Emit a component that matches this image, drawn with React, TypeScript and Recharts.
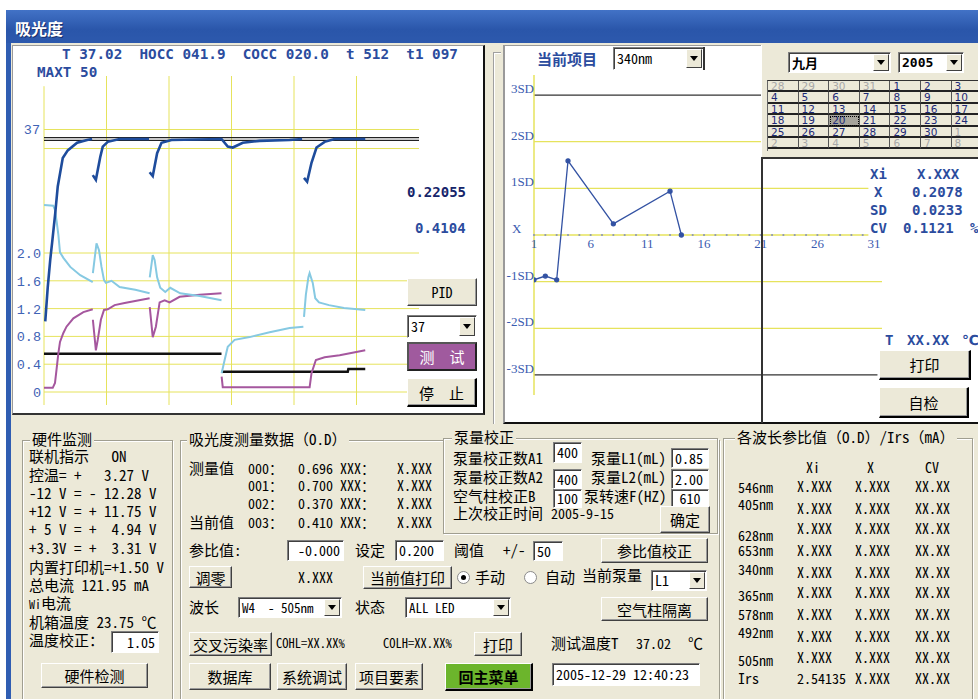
import React from 'react';
import { LineChart, Line, XAxis, YAxis, ReferenceLine, ReferenceDot } from 'recharts';

// ---------------- Left chart data (t in s, absorbance in O.D, temperature in °C) ----------------
const absTicks = [0, 0.4, 0.8, 1.2, 1.6, 2.0];
const timeGrid = [0, 10, 20, 30, 40, 50];
const tempBandYellow = [38, 36];
const tempBandBlack = [37.15, 36.85];

const tempT = [0.2, 0.6, 1.0, 1.3, 1.8, 2.2, 2.6, 3.0, 3.8, 5.3, 6.9, 7.7, 7.75, 7.8, 8.3, 9.0, 9.4, 10.2, 12.1, 16.8, 16.85, 16.9, 17.4, 18.1, 18.8, 20.4, 28.4, 29.4, 30.2, 31.8, 34.5, 39.3, 41.3, 41.4, 41.6, 42.1, 42.8, 43.6, 44.9, 46.5, 51.4];
const tempC = [17.8, 21.4, 24.3, 26.1, 29.2, 32.0, 33.5, 35.0, 35.8, 36.6, 36.9, 37.0, null, 33.2, 32.7, 35.1, 36.2, 36.7, 37.0, 37.0, null, 33.5, 33.1, 35.5, 36.6, 36.9, 37.0, 36.2, 36.1, 36.6, 36.8, 36.9, 37.0, null, 32.9, 32.5, 34.5, 36.1, 36.7, 37.0, 37.0];

const cyanT = [0, 1.49, 1.76, 2.0, 2.3, 2.56, 3.1, 4.2, 5.8, 7.8, 7.81, 7.82, 8.4, 8.8, 9.2, 9.6, 9.9, 10.8, 12.1, 14.6, 16.9, 16.91, 16.92, 17.4, 17.7, 18.1, 18.6, 19.4, 20.2, 21.8, 24.9, 28.4, 28.41, 28.42, 28.9, 29.4, 30.5, 32.9, 36.1, 39.3, 41.5, 41.51, 41.6, 41.9, 42.3, 42.5, 43.0, 43.4, 44.0, 45.6, 48.0, 51.4];
const cyanA = [2.69, 2.68, 2.62, 2.47, 2.26, 2.01, 1.93, 1.80, 1.68, 1.58, null, 1.71, 2.14, 2.04, 1.80, 1.61, 1.57, 1.60, 1.51, 1.47, 1.42, null, 1.65, 1.97, 1.90, 1.65, 1.50, 1.44, 1.50, 1.42, 1.38, 1.32, null, 0.27, 0.46, 0.65, 0.75, 0.79, 0.86, 0.92, 0.94, null, 1.08, 1.40, 1.65, 1.71, 1.57, 1.35, 1.29, 1.25, 1.21, 1.18];

const purpleT = [0, 1.4, 1.76, 2.0, 2.3, 2.56, 3.1, 3.6, 4.7, 6.3, 7.8, 7.81, 7.82, 8.3, 8.6, 9.1, 9.6, 10.2, 11.3, 12.9, 16.9, 16.91, 16.92, 17.4, 17.9, 18.5, 19.3, 20.1, 21.7, 24.9, 28.4, 28.41, 28.42, 28.6, 42.5, 42.8, 43.5, 44.9, 47.3, 51.4];
const purpleA = [0.06, 0.06, 0.13, 0.32, 0.56, 0.72, 0.85, 0.94, 1.06, 1.15, 1.19, null, 1.04, 0.60, 0.75, 1.04, 1.18, 1.19, 1.25, 1.28, 1.35, null, 1.22, 0.79, 0.94, 1.29, 1.32, 1.29, 1.37, 1.40, 1.42, null, 0.22, 0.07, 0.07, 0.27, 0.46, 0.50, 0.53, 0.60];

const blackT = [0, 28.4, 28.41, 28.42, 48.6, 48.7, 51.4];
const blackA = [0.55, 0.55, null, 0.29, 0.29, 0.33, 0.33];

// ---------------- Right chart data (QC, SD units per day) ----------------
const qcDay = [1, 2, 3, 4, 8, 13, 14];
const qcSD = [-0.96, -0.88, -0.96, 1.59, 0.24, 0.94, 0.0];
const sdLevels = [3, 2, 1, 0, -1, -2, -3];
const dayLabels = [1, 6, 11, 16, 21, 26, 31];
const dayTicks = Array.from({ length: 30 }, (_, i) => i + 1);

// ---------------- Calendar / tables ----------------
const calRows = [
  [28, 29, 30, 31, 1, 2, 3],
  [4, 5, 6, 7, 8, 9, 10],
  [11, 12, 13, 14, 15, 16, 17],
  [18, 19, 20, 21, 22, 23, 24],
  [25, 26, 27, 28, 29, 30, 1],
  [2, 3, 4, 5, 6, 7, 8],
];
const waveRows = [
  ['546nm', 487, 486, 'X.XXX'],
  ['405nm', 504, 508, 'X.XXX'],
  ['628nm', 535, 528, 'X.XXX'],
  ['653nm', 550, 550, 'X.XXX'],
  ['340nm', 569, 572, 'X.XXX'],
  ['365nm', 595, 592, 'X.XXX'],
  ['578nm', 614, 614, 'X.XXX'],
  ['492nm', 632, 636, 'X.XXX'],
  ['505nm', 660, 657, 'X.XXX'],
  ['Irs', 678, 678, '2.54135'],
];
const measRows = [
  ['000：', '0.696', 468],
  ['001：', '0.700', 485],
  ['002：', '0.370', 503],
  ['003：', '0.410', 522],
];

const zip = (ts: number[], vs: (number | null)[]) => ts.map((t, i) => ({ t, v: vs[i] }));

const BEIGE = '#ECE9D8';
const YEL = '#E6E35C';
const BLUE_TXT = '#2B4C9E';
const UI = '"Noto Sans Mono CJK SC", "Liberation Mono", "Noto Sans CJK SC", monospace';
const MONO = '"DejaVu Sans Mono", monospace';

function Txt({ x, y, children, size = 15, color = '#000', font = UI, weight = 400, style = {} }: any) {
  const h = Math.ceil(size) + 1;
  return (
    <div style={{ position: 'absolute', left: x, top: y - h / 2, height: h, lineHeight: `${h}px`, fontSize: size, color, fontFamily: font, fontWeight: weight, whiteSpace: 'pre', ...style }}>
      {children}
    </div>
  );
}

function Btn({ x, y, w, h, children, bg = BEIGE, color = '#000', bold = false, thick = false, size = 15 }: any) {
  return (
    <div style={{
      position: 'absolute', left: x, top: y, width: w, height: h, boxSizing: 'border-box', background: bg,
      borderTop: '1px solid #fff', borderLeft: '1px solid #fff',
      borderRight: thick ? '2px solid #000' : '1px solid #404040', borderBottom: thick ? '2px solid #000' : '1px solid #404040',
      boxShadow: 'inset -1px -1px 0 #9a9a9a', display: 'flex', alignItems: 'center', justifyContent: 'center',
      fontFamily: UI, fontSize: size, color, fontWeight: bold ? 700 : 400, whiteSpace: 'pre',
    }}>{children}</div>
  );
}

function Field({ x, y, w, h, children, align = 'left', size = 14 }: any) {
  return (
    <div style={{
      position: 'absolute', left: x, top: y, width: w, height: h, boxSizing: 'border-box', background: '#fff',
      borderTop: '1px solid #7f7f7f', borderLeft: '1px solid #7f7f7f', borderRight: '1px solid #fff', borderBottom: '1px solid #fff',
      boxShadow: 'inset 1px 1px 0 #404040', fontFamily: UI, fontSize: size, lineHeight: `${h - 2}px`,
      paddingLeft: 3, paddingRight: 3, textAlign: align, whiteSpace: 'pre', overflow: 'hidden',
    }}>{children}</div>
  );
}

function Select({ x, y, w, h, children, size = 14, bold = false, font = UI }: any) {
  return (
    <div style={{
      position: 'absolute', left: x, top: y, width: w, height: h, boxSizing: 'border-box', background: '#fff',
      borderTop: '1px solid #7f7f7f', borderLeft: '1px solid #7f7f7f', borderRight: '1px solid #fff', borderBottom: '1px solid #fff',
      boxShadow: 'inset 1px 1px 0 #404040', fontFamily: font, fontSize: size, fontWeight: bold ? 700 : 400,
      lineHeight: `${h - 2}px`, paddingLeft: 3, whiteSpace: 'pre', overflow: 'hidden',
    }}>
      {children}
      <div style={{
        position: 'absolute', right: 1, top: 1, width: 16, height: h - 4, boxSizing: 'border-box', background: BEIGE,
        borderTop: '1px solid #fff', borderLeft: '1px solid #fff', borderRight: '1px solid #404040', borderBottom: '1px solid #404040',
        display: 'flex', alignItems: 'center', justifyContent: 'center',
      }}>
        <svg width={8} height={5}><polygon points="0,0 8,0 4,5" fill="#000" /></svg>
      </div>
    </div>
  );
}

function Radio({ x, y, on }: any) {
  return (
    <div style={{ position: 'absolute', left: x, top: y, width: 13, height: 13, borderRadius: '50%', background: '#fff', border: '1px solid #8a8a8a', boxSizing: 'border-box', display: 'flex', alignItems: 'center', justifyContent: 'center' }}>
      {on && <div style={{ width: 5, height: 5, borderRadius: '50%', background: '#000' }} />}
    </div>
  );
}

function Group({ x, y, w, h, title, tx }: any) {
  return (
    <>
      <div style={{ position: 'absolute', left: x, top: y, width: w, height: h, boxSizing: 'border-box', border: '1px solid #a09e90', boxShadow: '1px 1px 0 #fff, inset 1px 1px 0 #fff' }} />
      <Txt x={tx} y={y - 1} style={{ background: BEIGE, padding: '0 2px' }}>{title}</Txt>
    </>
  );
}

const AbsTick = (p: any) => (
  <text x={p.x} y={p.y} dy={5} textAnchor="end" fill="#3F63B5" fontSize={13.5} fontFamily="Liberation Mono">
    {p.payload.value === 0 ? '0' : Number(p.payload.value).toFixed(1)}
  </text>
);

const SdTick = (p: any) => {
  const v = p.payload.value;
  const label = v === 0 ? 'X' : `${v}SD`;
  return (
    <text x={v === 0 ? p.x - 22 : p.x} y={p.y - 7} dy={5} textAnchor={v === 0 ? 'start' : 'end'} fill="#3A5BB0" fontSize={13} fontFamily="Liberation Serif">
      {label}
    </text>
  );
};

function LeftChart() {
  return (
    <div style={{ position: 'absolute', left: 13, top: 46 }}>
      <LineChart width={470} height={367} margin={{ top: 30, right: 64, bottom: 8, left: 0 }}>
        <XAxis type="number" dataKey="t" domain={[0, 60]} hide allowDataOverflow />
        <YAxis yAxisId="a" type="number" domain={[-0.187, 4.547]} ticks={absTicks} width={31} axisLine={false} tickLine={false} tickSize={0} tickMargin={3} tick={AbsTick} allowDataOverflow />
        <YAxis yAxisId="temp" type="number" domain={[9.0, 43.63]} hide allowDataOverflow />
        {absTicks.map((v) => (
          <ReferenceLine key={'h' + v} yAxisId="a" y={v} stroke={YEL} strokeWidth={1} />
        ))}
        {timeGrid.map((t) => (
          <ReferenceLine key={'v' + t} yAxisId="a" segment={[{ x: t, y: -0.187 }, { x: t, y: t === 0 ? 4.40 : 4.547 }]} stroke={YEL} strokeWidth={1} />
        ))}
        {tempBandYellow.map((v, i) => (
          <ReferenceLine key={'ty' + v} yAxisId="temp" y={v} stroke={YEL} strokeWidth={1}
            label={i === 0 ? { value: '37', position: 'left', offset: 4, fill: '#3F63B5', fontSize: 13.5, fontFamily: 'Liberation Mono' } : undefined} />
        ))}
        {tempBandBlack.map((v) => (
          <ReferenceLine key={'tb' + v} yAxisId="temp" y={v} stroke="#222" strokeWidth={1.2} />
        ))}
        <Line yAxisId="a" data={zip(blackT, blackA)} dataKey="v" stroke="#111" strokeWidth={2.5} dot={false} isAnimationActive={false} />
        <Line yAxisId="a" data={zip(purpleT, purpleA)} dataKey="v" stroke="#A5579E" strokeWidth={2} dot={false} isAnimationActive={false} />
        <Line yAxisId="a" data={zip(cyanT, cyanA)} dataKey="v" stroke="#86C9E2" strokeWidth={2} dot={false} isAnimationActive={false} />
        <Line yAxisId="temp" data={zip(tempT, tempC)} dataKey="v" stroke="#1E4C9C" strokeWidth={2.6} dot={false} isAnimationActive={false} />
      </LineChart>
    </div>
  );
}

function RightChart() {
  const qcData = qcDay.map((d, i) => ({ day: d, sd: qcSD[i] }));
  return (
    <div style={{ position: 'absolute', left: 505, top: 47 }}>
      <LineChart width={473} height={376} margin={{ top: 28, right: 96, bottom: 28, left: 0 }}>
        <XAxis type="number" dataKey="day" domain={[1, 31.7]} hide allowDataOverflow />
        <YAxis type="number" domain={[-3.43, 3.43]} ticks={sdLevels} width={29} axisLine={{ stroke: YEL, strokeWidth: 1.5 }} tickLine={false} tickSize={0} tickMargin={0} tick={SdTick} allowDataOverflow />
        <ReferenceLine y={3} stroke="#333" strokeWidth={1.2} />
        <ReferenceLine y={2} stroke={YEL} strokeWidth={1.2} />
        <ReferenceLine segment={[{ x: 1, y: 1 }, { x: 30.5, y: 1 }]} stroke={YEL} strokeWidth={1.2} />
        <ReferenceLine segment={[{ x: 1, y: 0 }, { x: 30.5, y: 0 }]} stroke={YEL} strokeWidth={1.5} />
        <ReferenceLine y={-1} stroke={YEL} strokeWidth={1.2} />
        <ReferenceLine y={-2} stroke={YEL} strokeWidth={1.2} />
        <ReferenceLine segment={[{ x: 1, y: -3 }, { x: 31.3, y: -3 }]} stroke="#333" strokeWidth={1.2} />
        {dayTicks.map((d) => (
          <ReferenceDot key={'d' + d} x={d} y={0} r={1.1} fill="#8a95b8" stroke="none" />
        ))}
        {dayLabels.map((d) => (
          <ReferenceDot key={'l' + d} x={d} y={0} r={0.5} fill="none" stroke="none"
            label={{ value: String(d), position: 'bottom', offset: 3, fill: '#3A5BB0', fontSize: 13, fontFamily: 'Liberation Serif' }} />
        ))}
        <Line data={qcData} dataKey="sd" stroke="#3352A3" strokeWidth={1.3} dot={{ r: 2, fill: '#3352A3', stroke: '#3352A3' }} isAnimationActive={false} />
      </LineChart>
    </div>
  );
}

function Calendar() {
  const cw = 30.6, rh = 11.4;
  return (
    <div style={{ position: 'absolute', left: 761, top: 45, width: 217, height: 113, background: BEIGE, borderLeft: '1px solid #fff', boxSizing: 'border-box', overflow: 'hidden' }}>
      <Select x={26} y={7} w={103} h={21} bold font={'"Noto Sans CJK SC", sans-serif'} size={13}>九月</Select>
      <Select x={136} y={7} w={66} h={21} bold font={MONO} size={13}>2005</Select>
      <div style={{ position: 'absolute', left: 5, top: 35, width: 220, height: rh * 6 + 2, borderTop: '1px solid #333', borderLeft: '1px solid #666' }}>
        {calRows.map((row, r) =>
          row.map((d, c) => {
            const gray = (r === 0 && c < 4) || (r === 4 && c === 6) || r === 5;
            const sel = r === 3 && c === 2;
            return (
              <div key={r + '-' + c} style={{
                position: 'absolute', left: c * cw, top: r * rh, width: cw, height: rh, boxSizing: 'border-box',
                borderBottom: '2px solid #222', borderRight: '1px solid #555', overflow: 'hidden',
                background: sel ? '#A6A49C' : 'transparent', outline: sel ? '1px dotted #000' : 'none', outlineOffset: -2,
              }}>
                <div style={{ paddingLeft: 3, fontFamily: '"DejaVu Sans", sans-serif', fontSize: 10.5, lineHeight: '11px', marginTop: 0, color: gray ? '#A8A8A8' : '#1C2A78' }}>{d}</div>
              </div>
            );
          })
        )}
      </div>
    </div>
  );
}

export default function App() {
  const lbl = { font: MONO, weight: 700, color: BLUE_TXT, size: 14 };
  return (
    <div style={{ position: 'absolute', left: 0, top: 0, width: 978, height: 699, background: '#fff', overflow: 'hidden', fontFamily: UI }}>
      {/* window frame */}
      <div style={{ position: 'absolute', left: 6, top: 10, width: 972, height: 689, background: '#2F5DB2' }} />
      <div style={{ position: 'absolute', left: 6, top: 10, width: 972, height: 33, background: 'linear-gradient(#4272C6, #2A56AA 60%, #2D59AD)' }} />
      <Txt x={15} y={28} size={16} weight={700} color="#fff" font={'"Noto Sans CJK SC", sans-serif'} style={{ textShadow: '1px 1px 0 #1a2f6a' }}>吸光度</Txt>
      <div style={{ position: 'absolute', left: 11, top: 43, width: 967, height: 656, background: BEIGE }} />

      {/* left panel */}
      <div style={{ position: 'absolute', left: 12, top: 45, width: 473, height: 370, boxSizing: 'border-box', background: '#fff', borderTop: '1px solid #9a9a9a', borderLeft: '1px solid #9a9a9a', borderRight: '2px solid #111', borderBottom: '2px solid #333' }} />
      <LeftChart />
      <Txt x={62} y={54} {...lbl} size={14.3}>{'T 37.02  HOCC 041.9  COCC 020.0  t 512  t1 097'}</Txt>
      <Txt x={37} y={72} {...lbl} size={14.3}>MAXT 50</Txt>
      <Txt x={407} y={192} font={MONO} weight={700} color="#16256A" size={14}>0.22055</Txt>
      <Txt x={415} y={228} {...lbl}>0.4104</Txt>
      <Btn x={407} y={278} w={70} h={28} size={14} >PID</Btn>
      <Select x={407} y={315} w={70} h={23} size={14}>37</Select>
      <div style={{ position: 'absolute', left: 407, top: 342, width: 70, height: 29, boxSizing: 'border-box', background: '#A05A9E', border: '2px solid #222', borderTopColor: '#555', borderLeftColor: '#555', color: '#fff', display: 'flex', alignItems: 'center', justifyContent: 'center', fontFamily: UI, fontSize: 15, whiteSpace: 'pre' }}>测  试</div>
      <Btn x={407} y={378} w={70} h={29} thick>停  止</Btn>

      {/* groove between panels */}
      <div style={{ position: 'absolute', left: 493, top: 52, width: 8, height: 372, boxSizing: 'border-box', borderLeft: '1px solid #a0a0a0', borderTop: '1px solid #a0a0a0', boxShadow: 'inset 1px 1px 0 #fff' }} />

      {/* right panel */}
      <div style={{ position: 'absolute', left: 503, top: 45, width: 475, height: 379, boxSizing: 'border-box', background: '#fff', borderTop: '1px solid #9a9a9a', borderLeft: '2px solid #9a9a9a', borderBottom: '2px solid #111' }} />
      <RightChart />
      <Txt x={537} y={59} size={15} weight={700} color={BLUE_TXT} font={'"Noto Sans CJK SC", sans-serif'}>当前项目</Txt>
      <Select x={613} y={47} w={91} h={23} size={14}>340nm</Select>
      <div style={{ position: 'absolute', left: 703, top: 47, width: 2, height: 23, background: '#333' }} />
      <Calendar />
      <div style={{ position: 'absolute', left: 761, top: 157, width: 217, height: 266, boxSizing: 'border-box', borderLeft: '2px solid #333', borderTop: '2px solid #333' }} />
      <Txt x={870} y={174} {...lbl}>Xi</Txt>
      <Txt x={917} y={174} {...lbl}>X.XXX</Txt>
      <Txt x={874} y={192} {...lbl}>X</Txt>
      <Txt x={912} y={192} {...lbl}>0.2078</Txt>
      <Txt x={870} y={210} {...lbl}>SD</Txt>
      <Txt x={912} y={210} {...lbl}>0.0233</Txt>
      <Txt x={870} y={228} {...lbl}>CV</Txt>
      <Txt x={903} y={228} {...lbl}>0.1121</Txt>
      <Txt x={970} y={228} {...lbl}>%</Txt>
      <Txt x={885} y={340} {...lbl}>T</Txt>
      <Txt x={907} y={340} {...lbl}>XX.XX</Txt>
      <Txt x={962} y={340} {...lbl} font={'"DejaVu Sans", sans-serif'}>℃</Txt>
      <Btn x={879} y={350} w={92} h={30} thick>打印</Btn>
      <Btn x={879} y={387} w={90} h={31} thick>自检</Btn>

      {/* 硬件监测 */}
      <Group x={22} y={440} w={151} h={270} title="硬件监测" tx={30} />
      <Txt x={29} y={456}>{'联机指示   ON'}</Txt>
      <Txt x={29} y={475}>{'控温= +   3.27 V'}</Txt>
      <Txt x={29} y={493}>{'-12 V = - 12.28 V'}</Txt>
      <Txt x={29} y={511}>{'+12 V = + 11.75 V'}</Txt>
      <Txt x={29} y={529}>{'+ 5 V = +  4.94 V'}</Txt>
      <Txt x={29} y={548}>{'+3.3V = +  3.31 V'}</Txt>
      <Txt x={29} y={567}>{'内置打印机=+1.50 V'}</Txt>
      <Txt x={29} y={585}>{'总电流 121.95 mA'}</Txt>
      <Txt x={29} y={603}><span style={{ fontSize: 12 }}>Wi</span>电流</Txt>
      <Txt x={29} y={622}>{'机箱温度 23.75 ℃'}</Txt>
      <Txt x={29} y={640}>{'温度校正：'}</Txt>
      <Field x={111} y={631} w={48} h={22} align="right">1.05</Field>
      <Btn x={41} y={663} w={107} h={25}>硬件检测</Btn>

      {/* 吸光度测量数据 */}
      <Group x={180} y={440} w={540} h={270} title="吸光度测量数据（O.D）" tx={187} />
      <Txt x={189} y={468}>测量值</Txt>
      <Txt x={189} y={522}>当前值</Txt>
      {measRows.map(([k, v, y]: any) => (
        <React.Fragment key={k}>
          <Txt x={248} y={y} size={14}>{k}</Txt>
          <Txt x={298} y={y} size={14}>{v}</Txt>
          <Txt x={340} y={y} size={14}>XXX：</Txt>
          <Txt x={397} y={y} size={14}>X.XXX</Txt>
        </React.Fragment>
      ))}
      <Txt x={189} y={550}>参比值:</Txt>
      <Field x={287} y={540} w={57} h={21} align="right">-0.000</Field>
      <Txt x={355} y={550}>设定</Txt>
      <Field x={395} y={540} w={49} h={21}>0.200</Field>
      <Txt x={454} y={550}>阈值</Txt>
      <Txt x={503} y={550}>+/-</Txt>
      <Field x={533} y={541} w={30} h={20}>50</Field>
      <Btn x={601} y={538} w={107} h={25}>参比值校正</Btn>
      <Btn x={189} y={566} w={43} h={22}>调零</Btn>
      <Txt x={298} y={577} size={14}>X.XXX</Txt>
      <Btn x={363} y={566} w={89} h={23}>当前值打印</Btn>
      <Radio x={457} y={571} on />
      <Txt x={475} y={577}>手动</Txt>
      <Radio x={524} y={571} />
      <Txt x={545} y={577}>自动</Txt>
      <Txt x={582} y={575}>当前泵量</Txt>
      <Select x={651} y={570} w={56} h={21}>L1</Select>
      <Txt x={189} y={607}>波长</Txt>
      <Select x={238} y={597} w={104} h={21} size={13}>{'W4  - 505nm'}</Select>
      <Txt x={355} y={607}>状态</Txt>
      <Select x={405} y={597} w={106} h={21} size={13}>ALL LED</Select>
      <Btn x={601} y={597} w={107} h={24}>空气柱隔离</Btn>
      <Btn x={189} y={632} w={83} h={24}>交叉污染率</Btn>
      <Txt x={276} y={643} size={12.5}>COHL=XX.XX%</Txt>
      <Txt x={383} y={643} size={12.5}>COLH=XX.XX%</Txt>
      <Btn x={474} y={632} w={48} h={24}>打印</Btn>
      <Txt x={551} y={643}>测试温度T</Txt>
      <Txt x={636} y={643} size={14}>37.02</Txt>
      <Txt x={688} y={643}>℃</Txt>
      <Btn x={189} y={663} w={82} h={27}>数据库</Btn>
      <Btn x={277} y={663} w={70} h={27}>系统调试</Btn>
      <Btn x={355} y={663} w={68} h={27}>项目要素</Btn>
      <Btn x={445} y={663} w={88} h={28} bg="#6CB52C" bold thick>回主菜单</Btn>
      <Field x={552} y={663} w={148} h={23} size={14}>2005-12-29 12:40:23</Field>

      {/* 泵量校正 */}
      <div style={{ position: 'absolute', left: 443, top: 438, width: 275, height: 96, background: BEIGE }} />
      <Group x={443} y={438} w={275} h={96} title="泵量校正" tx={452} />
      <Txt x={453} y={458}>泵量校正数A1</Txt>
      <Field x={553} y={442} w={29} h={21}>400</Field>
      <Txt x={591} y={458}>泵量L1(mL)</Txt>
      <Field x={671} y={448} w={38} h={20}>0.85</Field>
      <Txt x={453} y={477}>泵量校正数A2</Txt>
      <Field x={553} y={469} w={29} h={20}>400</Field>
      <Txt x={591} y={477}>泵量L2(mL)</Txt>
      <Field x={671} y={469} w={38} h={20}>2.00</Field>
      <Txt x={453} y={496}>空气柱校正B</Txt>
      <Field x={553} y={489} w={29} h={19}>100</Field>
      <Txt x={584} y={496}>泵转速F(HZ)</Txt>
      <Field x={671} y={489} w={38} h={19} align="center">610</Field>
      <Txt x={453} y={513}>上次校正时间</Txt>
      <Txt x={551} y={513} size={14}>2005-9-15</Txt>
      <Btn x={660} y={506} w={50} h={27}>确定</Btn>

      {/* 各波长参比值 */}
      <Group x={723} y={438} w={250} h={270} title="各波长参比值（O.D）/Irs（mA）" tx={735} />
      <Txt x={806} y={467} size={14}>Xi</Txt>
      <Txt x={867} y={467} size={14}>X</Txt>
      <Txt x={925} y={467} size={14}>CV</Txt>
      {waveRows.map(([name, ly, vy, xi]: any) => (
        <React.Fragment key={name}>
          <Txt x={738} y={ly} size={14}>{name}</Txt>
          <Txt x={797} y={vy} size={14}>{xi}</Txt>
          <Txt x={855} y={vy} size={14}>X.XXX</Txt>
          <Txt x={915} y={vy} size={14}>XX.XX</Txt>
        </React.Fragment>
      ))}
    </div>
  );
}
